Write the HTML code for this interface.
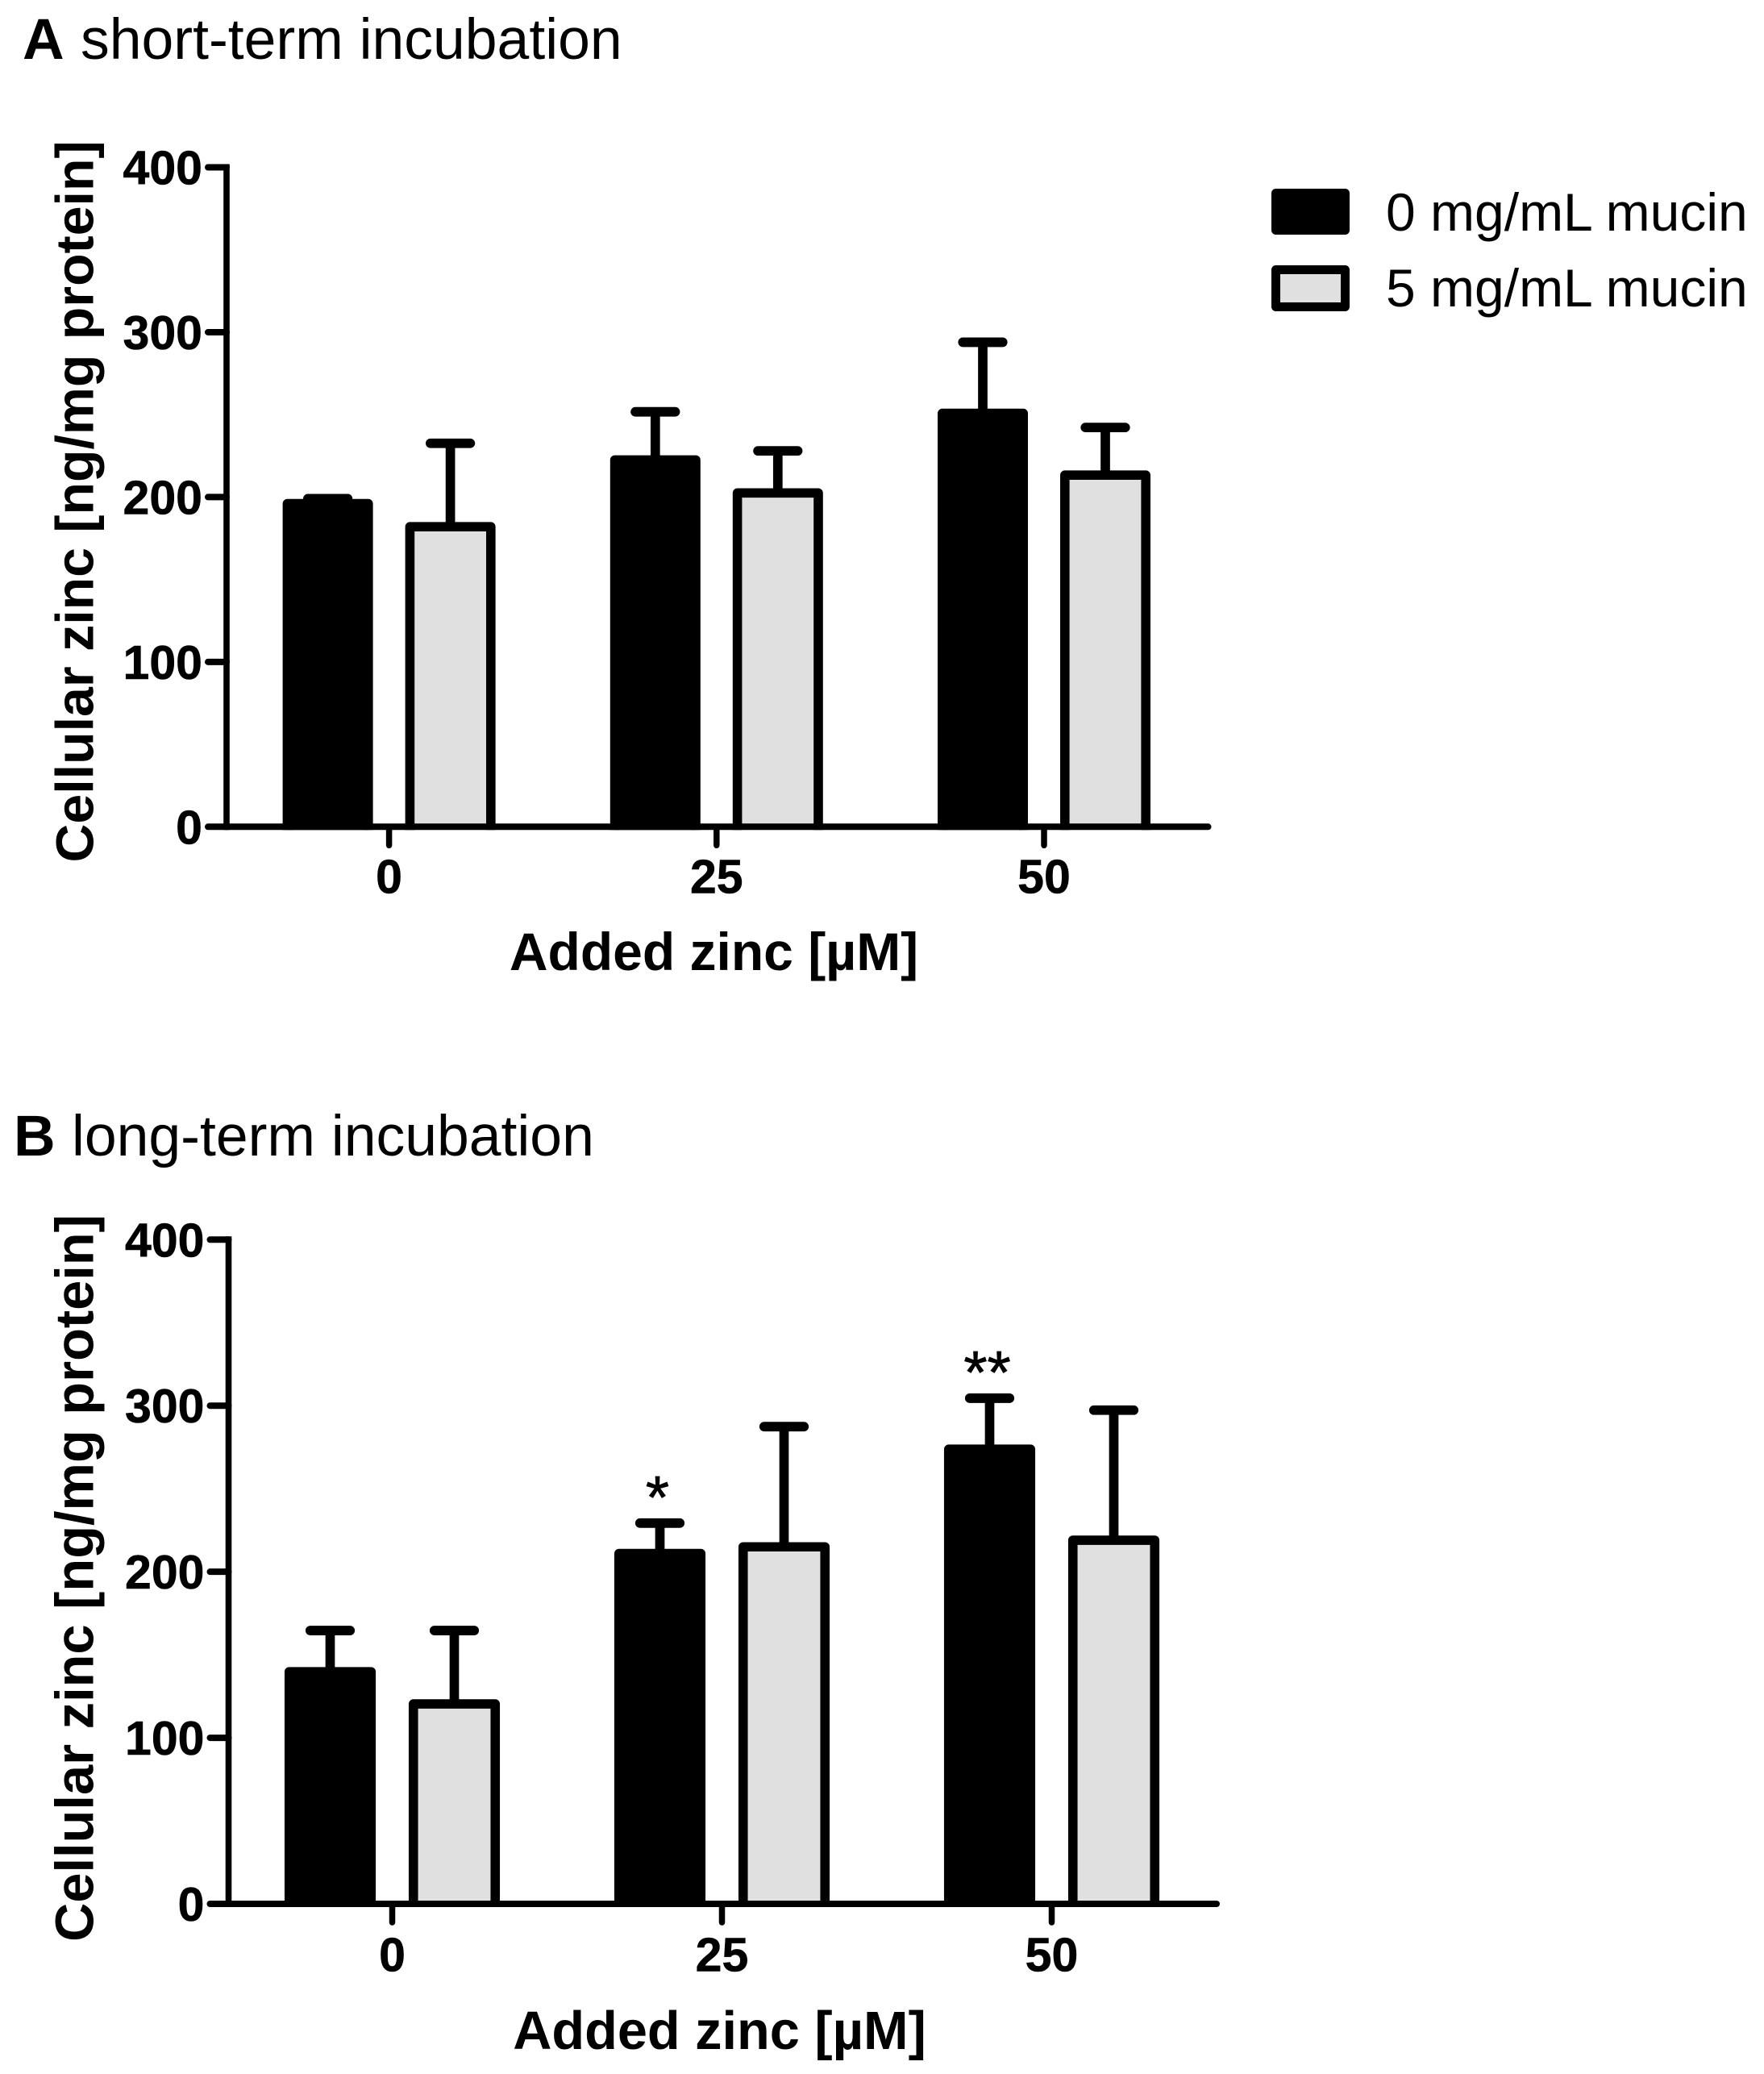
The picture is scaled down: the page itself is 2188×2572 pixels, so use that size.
<!DOCTYPE html>
<html lang="en">
<head>
<meta charset="utf-8">
<title>Cellular zinc after short-term and long-term incubation</title>
<style>
  html, body { margin: 0; padding: 0; background: #fff; }
  svg { display: block; }
  text { font-family: "Liberation Sans", Arial, sans-serif; fill: #000; }
  .bold { font-weight: bold; }
  .heavy { stroke: #000; stroke-width: 0.6; }
  .star { stroke: #000; stroke-width: 0.8; }
</style>
</head>
<body>
<svg id="figure" xmlns="http://www.w3.org/2000/svg" width="2188" height="2572" viewBox="0 0 2188 2572">
  <rect x="0" y="0" width="2188" height="2572" fill="#fff"/>
  <text x="28" y="73" font-size="71.5"><tspan class="bold">A</tspan><tspan x="100">short-term incubation</tspan></text>
  <text x="17" y="1433" font-size="71.5"><tspan class="bold">B</tspan><tspan x="89">long-term incubation</tspan></text>

  <g>
    <g>
      <rect x="1582.5" y="239.5" width="86" height="46" fill="#000" stroke="#000" stroke-width="11" stroke-linejoin="round"/>
      <text x="1719" y="286" font-size="66">0 mg/mL mucin</text>
    </g>
    <g>
      <rect x="1582.5" y="334.5" width="86" height="46" fill="#e0e0e0" stroke="#000" stroke-width="11" stroke-linejoin="round"/>
      <text x="1719" y="380" font-size="66">5 mg/mL mucin</text>
    </g>
  </g>
</svg>

<script>
// ---- chart data ----
const categories = ['0', '25', '50'];
const yTickValues = [0, 100, 200, 300, 400];

const panelAMucin0 = [196, 222.5, 250.8];
const panelAMucin0Err = [3, 29.2, 43.1];
const panelAMucin5 = [182, 202.5, 213.3];
const panelAMucin5Err = [50.6, 25.5, 28.9];

const panelBMucin0 = [139.8, 211, 273.8];
const panelBMucin0Err = [24.8, 18.3, 30.7];
const panelBMucin5 = [120.4, 215, 219];
const panelBMucin5Err = [44.2, 72.4, 78.3];

const panelBSignificance = ['', '*', '**'];
const panelASignificance = ['', '', ''];

const yMax = 400;
const svg = document.getElementById('figure');
const NS = 'http://www.w3.org/2000/svg';

function make(tag, parent) {
  const el = document.createElementNS(NS, tag);
  parent.appendChild(el);
  return el;
}

function drawPanel(id, layout, mucin0, mucin0Err, mucin5, mucin5Err, stars) {
  const yScale = v => layout.y0 - (v / yMax) * (layout.y0 - layout.yTop);
  const xScale = i => layout.x0 + i * layout.xStep;

  const g = make('g', svg);
  
  

  const seriesList = [
    { key: 'mucin-0', values: mucin0, errs: mucin0Err, fill: '#000', off: -layout.barOffset },
    { key: 'mucin-5', values: mucin5, errs: mucin5Err, fill: '#e0e0e0', off: layout.barOffset }
  ];

  seriesList.forEach(s => {
    s.values.forEach((v, i) => {
      const cx = xScale(i) + s.off;
      const top = yScale(v);
      const upper = yScale(v + s.errs[i]);

      const stem = make('line', g);
      
      
      stem.setAttribute('x1', cx);
      stem.setAttribute('x2', cx);
      stem.setAttribute('y1', top);
      stem.setAttribute('y2', upper);
      stem.setAttribute('stroke', '#000');
      stem.setAttribute('stroke-width', 11.7);

      const cap = make('line', g);
      
      
      cap.setAttribute('x1', cx - 24.7);
      cap.setAttribute('x2', cx + 24.7);
      cap.setAttribute('y1', upper);
      cap.setAttribute('y2', upper);
      cap.setAttribute('stroke', '#000');
      cap.setAttribute('stroke-width', 11.8);
      cap.setAttribute('stroke-linecap', 'round');

      const left = cx - layout.barWidth / 2;
      const right = cx + layout.barWidth / 2;
      const floor = layout.y0 + 4;
      const bar = make('path', g);
      
      
      bar.setAttribute('d', 'M' + left + ' ' + floor + ' V' + top + ' H' + right + ' V' + floor);
      bar.setAttribute('fill', s.fill);
      bar.setAttribute('stroke', '#000');
      bar.setAttribute('stroke-width', 11.6);
      bar.setAttribute('stroke-linejoin', 'round');
    });
  });

  stars.forEach((label, i) => {
    if (!label) return;
    const star = make('text', g);
    
    
    star.setAttribute('class', 'star');
    star.setAttribute('x', xScale(i) - layout.barOffset - 3);
    star.setAttribute('y', yScale(mucin0[i] + mucin0Err[i]) + layout.starGap);
    star.setAttribute('text-anchor', 'middle');
    star.setAttribute('font-size', 75);
    star.textContent = label;
  });

  const yAxis = make('line', g);
  
  
  yAxis.setAttribute('x1', layout.axisX);
  yAxis.setAttribute('x2', layout.axisX);
  yAxis.setAttribute('y1', layout.yTop - 4);
  yAxis.setAttribute('y2', layout.y0 + 4);
  yAxis.setAttribute('stroke', '#000');
  yAxis.setAttribute('stroke-width', 7.6);

  const xAxis = make('line', g);
  
  
  xAxis.setAttribute('x1', layout.axisX);
  xAxis.setAttribute('x2', layout.axisRight);
  xAxis.setAttribute('y1', layout.y0);
  xAxis.setAttribute('y2', layout.y0);
  xAxis.setAttribute('stroke', '#000');
  xAxis.setAttribute('stroke-width', 8);
  xAxis.setAttribute('stroke-linecap', 'round');

  yTickValues.forEach(v => {
    const tick = make('line', g);
    
    
    tick.setAttribute('x1', layout.axisX);
    tick.setAttribute('x2', layout.axisX - 23);
    tick.setAttribute('y1', yScale(v));
    tick.setAttribute('y2', yScale(v));
    tick.setAttribute('stroke', '#000');
    tick.setAttribute('stroke-width', 8);
    tick.setAttribute('stroke-linecap', 'round');

    const label = make('text', g);
    
    
    label.setAttribute('class', 'bold heavy');
    label.setAttribute('x', layout.axisX - 30);
    label.setAttribute('y', yScale(v) + 21);
    label.setAttribute('text-anchor', 'end');
    label.setAttribute('font-size', 59);
    label.textContent = v;
  });

  categories.forEach((c, i) => {
    const tick = make('line', g);
    
    
    tick.setAttribute('x1', xScale(i));
    tick.setAttribute('x2', xScale(i));
    tick.setAttribute('y1', layout.y0);
    tick.setAttribute('y2', layout.y0 + 23);
    tick.setAttribute('stroke', '#000');
    tick.setAttribute('stroke-width', 7.5);
    tick.setAttribute('stroke-linecap', 'round');

    const label = make('text', g);
    
    
    label.setAttribute('class', 'bold heavy');
    label.setAttribute('x', xScale(i));
    label.setAttribute('y', layout.y0 + layout.xLabelGap);
    label.setAttribute('text-anchor', 'middle');
    label.setAttribute('font-size', 59);
    label.textContent = c;
  });

  const xTitle = make('text', g);
  
  
  xTitle.setAttribute('class', 'bold');
  xTitle.setAttribute('x', layout.xTitleX);
  xTitle.setAttribute('y', layout.xTitleY);
  xTitle.setAttribute('text-anchor', 'middle');
  xTitle.setAttribute('font-size', layout.xTitleSize);
  xTitle.textContent = 'Added zinc [\u00B5M]';

  const yTitle = make('text', g);
  
  
  yTitle.setAttribute('class', 'bold');
  yTitle.setAttribute('transform', 'translate(115.5,' + layout.yTitleMid + ') rotate(-90)');
  yTitle.setAttribute('text-anchor', 'middle');
  yTitle.setAttribute('font-size', layout.yTitleSize);
  yTitle.textContent = 'Cellular zinc [ng/mg protein]';
}

const layoutA = { axisX: 281, axisRight: 1498.5, y0: 1025.3, yTop: 207.5, x0: 482.6, xStep: 406.2, barOffset: 76, barWidth: 100.4, xLabelGap: 82.2, xTitleX: 885.5, xTitleY: 1203, xTitleSize: 66, yTitleMid: 622, yTitleSize: 66.3, starGap: 0 };
const layoutB = { axisX: 283.5, axisRight: 1509, y0: 2361, yTop: 1537.3, x0: 486.5, xStep: 409, barOffset: 77, barWidth: 101.5, xLabelGap: 83.5, xTitleX: 892.5, xTitleY: 2541, xTitleSize: 66.7, yTitleMid: 1957, yTitleSize: 66.8, starGap: -6 };

drawPanel('panel-a', layoutA, panelAMucin0, panelAMucin0Err, panelAMucin5, panelAMucin5Err, panelASignificance);
drawPanel('panel-b', layoutB, panelBMucin0, panelBMucin0Err, panelBMucin5, panelBMucin5Err, panelBSignificance);
</script>
</body>
</html>
